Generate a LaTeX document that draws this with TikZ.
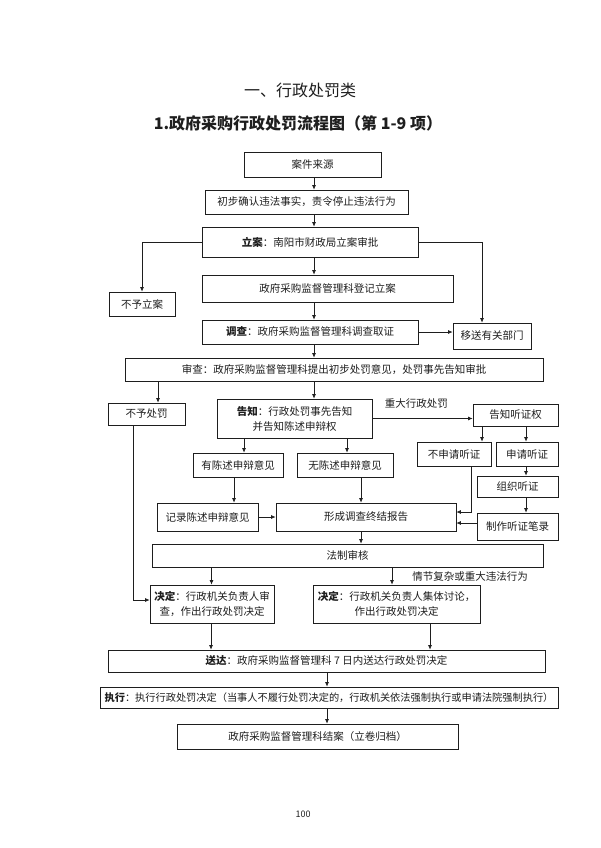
\documentclass[tikz,border=0pt]{standalone}
\usepackage{fontspec}
\setmainfont{Noto Sans CJK SC}
\usepackage{xcolor}
\usetikzlibrary{arrows.meta,positioning,calc}
\definecolor{flowink}{HTML}{1E1E1E}

\begin{document}
\begin{tikzpicture}[
  x=1pt,y=-1pt,
  every node/.style={font=\fontsize{10.5}{15}\selectfont,align=center,text=flowink},
  box/.style={draw=flowink,line width=0.7pt,inner sep=0pt,fill=white},
  wh/.style 2 args={minimum width=#1,minimum height=#2},
  arrow/.style={-{Latex[length=4.5pt,width=4pt]},line width=0.7pt,color=flowink},
  link/.style={line width=0.7pt,color=flowink}
]
\useasboundingbox (0,0) rectangle (600,848);
% headings
\node[font=\fontsize{16}{18}\selectfont] (title) at (300,90) {一、行政处罚类};
\node[font=\fontsize{16}{18}\selectfont\bfseries] (subtitle) at (298,123) {1.政府采购行政处罚流程图（第 1-9 项）};
% case filing
\node[box,wh={137}{25}] (anjian) at (312.5,164.5) {案件来源};
\node[box,wh={203}{24}] (chubu) at (306.5,202) {初步确认违法事实，责令停止违法行为};
\node[box,wh={216}{30}] (lian) at (310,242) {\textbf{立案}：南阳市财政局立案审批};
\node[box,wh={66}{24}] (buyulian) at (142,304) {不予立案};
\node[box,wh={251}{27}] (dengji) at (327.5,288.5) {政府采购监督管理科登记立案};
\node[box,wh={216}{24}] (diaocha) at (310,332) {\textbf{调查}：政府采购监督管理科调查取证};
\node[box,wh={78}{26}] (yisong) at (492,336) {移送有关部门};
\node[box,wh={418}{23}] (shencha) at (334,369.5) {审查：政府采购监督管理科提出初步处罚意见，处罚事先告知审批};
% notice and hearing
\node[box,wh={77}{22}] (buyuchufa) at (146.5,414) {不予处罚};
\node[box,wh={155}{39}] (gaozhi) at (294.5,418.5) {\textbf{告知}：行政处罚事先告知\\并告知陈述申辩权};
\node[box,wh={85}{22}] (tingzhengquan) at (515.5,415) {告知听证权};
\node[box,wh={74}{24}] (bushenqing) at (454,454) {不申请听证};
\node[box,wh={62}{24}] (shenqing) at (527,454) {申请听证};
\node[box,wh={81}{21}] (zuzhi) at (517.5,486.5) {组织听证};
\node[box,wh={81}{27}] (bilu) at (517.5,526.5) {制作听证笔录};
\node[box,wh={90}{24}] (youchenshu) at (238,465) {有陈述申辩意见};
\node[box,wh={96}{24}] (wuchenshu) at (345,465) {无陈述申辩意见};
\node[box,wh={101}{28}] (jilu) at (207.5,517) {记录陈述申辩意见};
\node[box,wh={180}{28}] (xingcheng) at (366,517) {形成调查终结报告};
% review and decision
\node[box,wh={391}{23}] (fazhi) at (347.5,555.5) {法制审核};
\node (qingjie) at (470,577) {情节复杂或重大违法行为};
\node[box,wh={124}{38}] (jueding1) at (212,604) {\textbf{决定}：行政机关负责人审\\查，作出行政处罚决定};
\node[box,wh={167}{38}] (jueding2) at (396.5,604) {\textbf{决定}：行政机关负责人集体讨论，\\作出行政处罚决定};
\node[box,wh={437}{22}] (songda) at (326.5,661) {\textbf{送达}：政府采购监督管理科 7 日内送达行政处罚决定};
\node[box,wh={458}{21},font=\fontsize{10.2}{14}\selectfont] (zhixing) at (329,697.5) {\textbf{执行}：执行行政处罚决定（当事人不履行处罚决定的，行政机关依法强制执行或申请法院强制执行）};
\node[box,wh={281}{25}] (jiean) at (317.5,736.5) {政府采购监督管理科结案（立卷归档）};
\node[font=\fontsize{9}{10}\selectfont] (yema) at (303,814) {100};

\draw[arrow] (anjian.south -| 314,0) -- (chubu.north -| 314,0);
\draw[arrow] (chubu.south -| 314,0) -- (lian.north -| 314,0);
\draw[arrow] (lian.south -| 314,0) -- (dengji.north -| 314,0);
\draw[arrow] (lian.west) -| (buyulian.north);
\draw[arrow] (lian.east) -| (yisong.north -| 482,0);
\draw[arrow] (dengji.south -| 314,0) -- (diaocha.north -| 314,0);
\draw[arrow] (diaocha.east) -- (diaocha.east -| yisong.west);
\draw[arrow] (diaocha.south -| 314,0) -- (shencha.north -| 314,0);
\draw[arrow] (shencha.south -| 158,0) -- (buyuchufa.north -| 158,0);
\draw[arrow] (shencha.south -| 314,0) -- (gaozhi.north -| 314,0);
\draw[arrow] (gaozhi.east) --
  node[pos=0.44,above=6pt]{重大行政处罚}
  (gaozhi.east -| tingzhengquan.west);
\draw[arrow] (tingzhengquan.south -| 482,0) -- (bushenqing.north -| 482,0);
\draw[arrow] (tingzhengquan.south -| 526,0) -- (shenqing.north -| 526,0);
\draw[arrow] (shenqing.south -| 526,0) -- (zuzhi.north -| 526,0);
\draw[arrow] (zuzhi.south -| 526,0) -- (bilu.north -| 526,0);
\draw[arrow] (gaozhi.south -| 244,0) -- (youchenshu.north -| 244,0);
\draw[arrow] (gaozhi.south -| 347,0) -- (wuchenshu.north -| 347,0);
\draw[arrow] (youchenshu.south -| 234,0) -- (jilu.north -| 234,0);
\draw[arrow] (wuchenshu.south -| 361,0) -- (xingcheng.north -| 361,0);
\draw[arrow] (jilu.east) -- (xingcheng.west);
\draw[arrow] (bushenqing.south -| 471,0) |- (xingcheng.east |- 0,512);
\draw[arrow] (bilu.west |- 0,523) -- (xingcheng.east |- 0,523);
\draw[arrow] (xingcheng.south -| 361,0) -- (fazhi.north -| 361,0);
\draw[arrow] (fazhi.south -| 211.5,0) -- (jueding1.north -| 211.5,0);
\draw[arrow] (fazhi.south -| 392,0) -- (jueding2.north -| 392,0);
\draw[arrow] (buyuchufa.south -| 133,0) |- (jueding1.west |- 0,600);
\draw[arrow] (jueding1.south -| 211,0) -- (songda.north -| 211,0);
\draw[arrow] (jueding2.south -| 430,0) -- (songda.north -| 430,0);
\draw[arrow] (songda.south -| 327,0) -- (zhixing.north -| 327,0);
\draw[arrow] (zhixing.south -| 327,0) -- (jiean.north -| 327,0);
\end{tikzpicture}
\end{document}
